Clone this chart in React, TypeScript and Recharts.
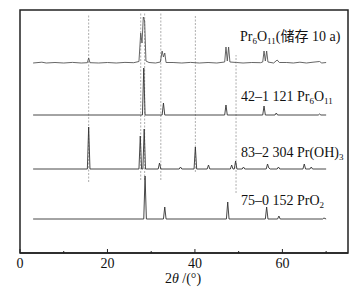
import { LineChart, Line, XAxis, YAxis, ReferenceLine, ReferenceArea } from "recharts";

// [2θ, relative intensity]
const storedPr6O11 = [
  [3, 0], [5, 0.8], [6, 0], [8, 0.5], [10, 0], [12, 0.6], [14, 0], [15.4, 0.3], [15.7, 5], [16, 0.3],
  [18, 0], [20, 0.5], [22, 0], [24, 0.6], [26, 0.3], [27.2, 1.5], [27.6, 30], [27.9, 20], [28.2, 46],
  [28.5, 42], [28.8, 2], [29.5, 0.5], [31, 0], [32.1, 1], [32.5, 12], [32.8, 6], [33.1, 10], [33.4, 0.5],
  [35, 0.5], [37, 0], [39, 0.6], [41, 0], [43, 0.5], [45, 0], [46.8, 1], [47.1, 16], [47.4, 2], [47.7, 16],
  [48, 1], [49.5, 0.5], [51, 0], [53, 0.5], [55, 0.3], [55.5, 1], [55.8, 12], [56.1, 2], [56.4, 12],
  [56.7, 1], [58, 0], [58.8, 3], [59.3, 0.5], [61, 0.5], [62.5, 0], [64, 0.8], [65.5, 0], [67, 0.8],
  [68.5, 1.5], [69, 0], [70, 0.5],
];
const pdf42_1121 = [
  [3, 0], [28, 0], [28.3, 47], [28.6, 0], [32.5, 0], [32.8, 12], [33.1, 0], [46.8, 0], [47.1, 10],
  [47.4, 0], [55.5, 0], [55.8, 9], [56.1, 0], [58.3, 0], [58.6, 2], [58.9, 0], [68.2, 0], [68.5, 1],
  [68.8, 0], [70, 0],
];
const pdf83_2304 = [
  [3, 0], [15.4, 0], [15.7, 42], [16, 0], [27.2, 0], [27.5, 33], [27.8, 0], [28.1, 0], [28.4, 40],
  [28.7, 0], [31.6, 0], [31.9, 6], [32.2, 0], [36.4, 0], [36.7, 2], [37, 0], [39.8, 0], [40.1, 22],
  [40.4, 0], [42.8, 0], [43.1, 4], [43.4, 0], [48.1, 0], [48.4, 4], [48.7, 0], [49, 0], [49.3, 8],
  [49.6, 0], [50.8, 0], [51.1, 2], [51.4, 0], [56.3, 0], [56.6, 5], [56.9, 1], [57.2, 0], [58.8, 0],
  [59.1, 2], [59.4, 0], [64.7, 0], [65, 5], [65.3, 0], [66.3, 0], [66.6, 2], [66.9, 0], [70, 0],
];
const pdf75_0152 = [
  [3, 0], [28.3, 0], [28.6, 43], [28.9, 0], [32.8, 0], [33.1, 12], [33.4, 0], [47.2, 0], [47.5, 17],
  [47.8, 0], [56.1, 0], [56.4, 12], [56.7, 0], [58.9, 0], [59.2, 3], [59.5, 0], [69.2, 0], [69.5, 1],
  [70, 0],
];

const xTicks = [0, 10, 20, 30, 40, 50, 60, 70];
// reference peak positions (2θ) and the vertical span of each guide line
const guideLines = [
  { x: 15.7, from: 71, to: 239 },
  { x: 27.6, from: 73, to: 240 },
  { x: 28.5, from: 73, to: 240 },
  { x: 32.2, from: 73, to: 240 },
  { x: 40.1, from: 81, to: 238 },
  { x: 49.4, from: 60, to: 198 },
];

const patterns = [
  { key: "stored", points: storedPr6O11, offset: 190, color: "#555" },
  { key: "42-1121", points: pdf42_1121, offset: 138, color: "#333" },
  { key: "83-2304", points: pdf83_2304, offset: 84, color: "#333" },
  { key: "75-0152", points: pdf75_0152, offset: 34, color: "#333" },
];

const serif = "'Liberation Serif', 'Times New Roman', 'Noto Sans CJK SC', serif";

const Tick = (props: any) => {
  const { x, y, payload } = props;
  const major = payload.value % 20 === 0;
  return (
    <g>
      <line x1={x} y1={y} x2={x} y2={y - (major ? 4 : 2)} stroke="#222" strokeWidth={1} />
      {major && (
        <text x={x} y={y + 15} textAnchor="middle" fontSize={14} fontFamily={serif} fill="#111">
          {payload.value}
        </text>
      )}
    </g>
  );
};

const Sub = ({ children }: { children: string }) => (
  <tspan fontSize={9} dy={3}>{children}</tspan>
);

export default function App() {
  return (
    <div style={{ position: "absolute", left: 0, top: 0, width: 359, height: 288, background: "#fff" }}>
      <LineChart width={359} height={288} margin={{ top: 10, right: 11, left: 20, bottom: 5 }}>
        <XAxis
          type="number"
          dataKey="x"
          domain={[0, 75]}
          ticks={xTicks}
          allowDataOverflow
          height={30}
          tickLine={false}
          tickSize={0}
          tickMargin={0}
          axisLine={{ stroke: "#222", strokeWidth: 1.5 }}
          tick={<Tick />}
        />
        <YAxis hide type="number" domain={[0, 243]} allowDataOverflow />
        <ReferenceArea x1={0} x2={75} y1={0} y2={243} fill="none" stroke="#222" strokeWidth={1.5} />
        {guideLines.map((g) => (
          <ReferenceLine
            key={g.x}
            segment={[{ x: g.x, y: g.from }, { x: g.x, y: g.to }]}
            stroke="#999"
            strokeWidth={0.8}
            strokeDasharray="2 1.5"
          />
        ))}
        {patterns.map((p) => (
          <Line
            key={p.key}
            data={p.points.map(([x, i]) => ({ x, y: i + p.offset }))}
            dataKey="y"
            type="linear"
            stroke={p.color}
            strokeWidth={0.9}
            dot={false}
            isAnimationActive={false}
          />
        ))}
      </LineChart>
      <svg width={359} height={288} style={{ position: "absolute", left: 0, top: 0, pointerEvents: "none" }}>
        <g fontFamily={serif} fontSize={14} fill="#111">
          <text x={240} y={41}>
            Pr<Sub>6</Sub><tspan dy={-3}>O</tspan><Sub>11</Sub><tspan dy={-3}>(储存 10 a)</tspan>
          </text>
          <text x={241} y={101}>
            42–1 121 Pr<Sub>6</Sub><tspan dy={-3}>O</tspan><Sub>11</Sub>
          </text>
          <text x={241} y={157}>
            83–2 304 Pr(OH)<Sub>3</Sub>
          </text>
          <text x={241} y={205}>
            75–0 152 PrO<Sub>2</Sub>
          </text>
          <text x={183} y={283} textAnchor="middle">
            2<tspan fontStyle="italic">θ</tspan> /(°)
          </text>
        </g>
      </svg>
    </div>
  );
}
